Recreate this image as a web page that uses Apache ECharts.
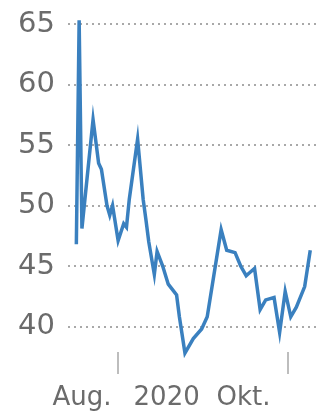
<!DOCTYPE html>
<html>
<head>
<meta charset="utf-8">
<script src="https://cdn.jsdelivr.net/npm/echarts@6/dist/echarts.min.js"></script>
<style>
  html, body { margin: 0; padding: 0; background: #ffffff; }
  #chart { width: 320px; height: 414px; }
</style>
</head>
<body>
<div id="chart"></div>
<script>
// Daily closing values, mid-July to early October 2020
const dates = [
  '2020-07-17', '2020-07-18', '2020-07-19', '2020-07-23', '2020-07-25',
  '2020-07-26', '2020-07-28', '2020-07-29', '2020-07-30', '2020-08-01',
  '2020-08-03', '2020-08-04', '2020-08-05', '2020-08-08', '2020-08-10',
  '2020-08-11', '2020-08-12', '2020-08-14', '2020-08-15', '2020-08-17',
  '2020-08-19', '2020-08-22', '2020-08-23', '2020-08-25', '2020-08-28',
  '2020-08-31', '2020-09-02', '2020-09-07', '2020-09-09', '2020-09-12',
  '2020-09-14', '2020-09-16', '2020-09-17', '2020-09-19', '2020-09-21',
  '2020-09-23', '2020-09-26', '2020-09-28', '2020-09-30', '2020-10-02',
  '2020-10-04', '2020-10-07', '2020-10-09'
];
const values = [
  46.8, 65.3, 48.1, 57.1, 53.5,
  53.0, 50.0, 49.2, 50.0, 47.1,
  48.5, 48.2, 50.5, 55.5, 50.5,
  48.8, 47.0, 44.3, 46.2, 45.0,
  43.5, 42.6, 40.8, 37.8, 39.0,
  39.8, 40.8, 48.0, 46.3, 46.1,
  45.0, 44.2, 44.4, 44.8, 41.4,
  42.2, 42.4, 39.5, 42.9, 40.8,
  41.6, 43.3, 46.3
];

// Month ticks on the date axis and their labels
const monthTicks = ['2020-08-01', '2020-10-01'];
const monthLabels = ['Aug.|2020', 'Okt.'];

const yTicks = { min: 35, max: 65, step: 5 };

const FONT = 'DejaVu Sans';
const TEXT = '#6b6b6b';

const toTime = d => new Date(d + 'T00:00:00Z').getTime();
const tickTimes = monthTicks.map(toTime);

const chart = echarts.init(document.getElementById('chart'), null, { renderer: 'canvas' });

chart.setOption({
  animation: false,
  backgroundColor: '#ffffff',
  grid: { left: 68, right: 0, top: 24, bottom: 27, containLabel: false },
  xAxis: {
    type: 'value',
    min: toTime('2020-07-14'),
    max: toTime('2020-10-12') + 12 * 3600 * 1000,
    offset: -35,
    axisLine: { show: false },
    splitLine: { show: false },
    axisTick: {
      show: true,
      customValues: tickTimes,
      length: 22,
      lineStyle: { color: '#a8a8a8', width: 1.5 }
    },
    axisLabel: {
      customValues: tickTimes,
      margin: 33,
      hideOverlap: false,
      fontFamily: FONT,
      fontSize: 26,
      color: TEXT,
      formatter: function (val) {
        const i = tickTimes.indexOf(val);
        const lab = monthLabels[i] || '';
        if (lab.indexOf('|') >= 0) {
          const parts = lab.split('|');
          return '{m|' + parts[0] + '}{y|' + parts[1] + '}';
        }
        return '{o|' + lab + '}';
      },
      rich: {
        m: { fontFamily: FONT, fontSize: 26, color: TEXT, padding: [0, 22, 0, 16] },
        y: { fontFamily: FONT, fontSize: 26, color: TEXT },
        o: { fontFamily: FONT, fontSize: 26, color: TEXT, padding: [0, 89, 0, 0] }
      }
    }
  },
  yAxis: {
    type: 'value',
    min: yTicks.min,
    max: yTicks.max,
    interval: yTicks.step,
    axisLine: { show: false },
    axisTick: { show: false },
    axisLabel: {
      showMinLabel: false,
      margin: 13,
      fontFamily: FONT,
      fontSize: 29,
      color: TEXT
    },
    splitLine: {
      show: true,
      showMinLine: false,
      lineStyle: { color: '#a9a9a9', width: 2, type: [2, 4] }
    }
  },
  series: [{
    type: 'line',
    data: dates.map((d, i) => [toTime(d), values[i]]),
    showSymbol: false,
    clip: false,
    lineStyle: { color: '#3a80bf', width: 3.5, join: 'miter' }
  }]
});
</script>
</body>
</html>
